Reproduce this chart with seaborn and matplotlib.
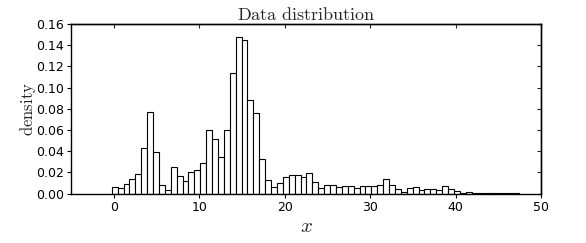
import numpy as np
import pandas as pd
import seaborn as sns
import matplotlib
matplotlib.use('Agg')
import matplotlib.pyplot as plt

# histogram: first bin edge, bin width, densities per bin
bin_start = -0.27
bin_width = 0.691
density = [0.0063, 0.0050, 0.0088, 0.0141, 0.0185, 0.0430, 0.0769, 0.0392, 0.0078, 0.0038,
           0.0254, 0.0169, 0.0124, 0.0207, 0.0226, 0.0290, 0.0605, 0.0515, 0.0342, 0.0605,
           0.1143, 0.1482, 0.1445, 0.0880, 0.0760, 0.0329, 0.0129, 0.0063, 0.0097, 0.0154,
           0.0179, 0.0176, 0.0157, 0.0191, 0.0110, 0.0053, 0.0078, 0.0085, 0.0060, 0.0075,
           0.0075, 0.0050, 0.0072, 0.0069, 0.0069, 0.0082, 0.0135, 0.0078, 0.0041, 0.0016,
           0.0050, 0.0066, 0.0031, 0.0041, 0.0041, 0.0035, 0.0072, 0.0044, 0.0025, 0.0009,
           0.0016, 0.0006, 0.0003, 0.0002, 0.0002, 0.0005, 0.0002, 0.0005, 0.0002]
title = 'Data distribution'
xlim = (-5, 50)
ylim = (0, 0.16)
xticks = [0, 10, 20, 30, 40, 50]
yticks = [0.00, 0.02, 0.04, 0.06, 0.08, 0.10, 0.12, 0.14, 0.16]

edges = list(bin_start + bin_width * np.arange(len(density) + 1))
centers = [(a + b) / 2 for a, b in zip(edges[:-1], edges[1:])]
df = pd.DataFrame({'x': centers, 'density': density})

sns.set_style('ticks')
plt.rcParams['mathtext.fontset'] = 'cm'

fig = plt.figure(figsize=(5.86, 2.43), dpi=100)
ax = fig.add_axes([0.1217, 0.203, 0.8016, 0.698])
sns.histplot(data=df, x='x', weights='density', bins=edges, stat='count',
             color='white', edgecolor='black', linewidth=0.8, alpha=1, ax=ax)

ax.set_xlim(*xlim)
ax.set_ylim(*ylim)
ax.set_xticks(xticks)
ax.set_yticks(yticks)
ax.set_yticklabels(['%.2f' % t for t in yticks])
ax.tick_params(direction='out', length=3, width=0.8, labelsize=9, colors='black', pad=2)
for s in ax.spines.values():
    s.set_linewidth(1.0)
    s.set_color('black')

# inward ticks on the top and right edges
top = ax.secondary_xaxis('top')
top.set_xticks(xticks)
top.tick_params(direction='in', length=3, width=0.8, labeltop=False)
right = ax.secondary_yaxis('right')
right.set_yticks(yticks)
right.tick_params(direction='in', length=3, width=0.8, labelright=False)
for sec in (top, right):
    for s in sec.spines.values():
        s.set_linewidth(1.0)

ax.set_title(r'$\mathrm{Data\ distribution}$', fontsize=13, pad=3)
ax.set_xlabel(r'$x$', fontsize=15, labelpad=2)
ax.set_ylabel(r'$\mathrm{density}$', fontsize=12)
ax.yaxis.set_label_coords(-0.07, 0.5)

fig.savefig('out.png', dpi=100)
